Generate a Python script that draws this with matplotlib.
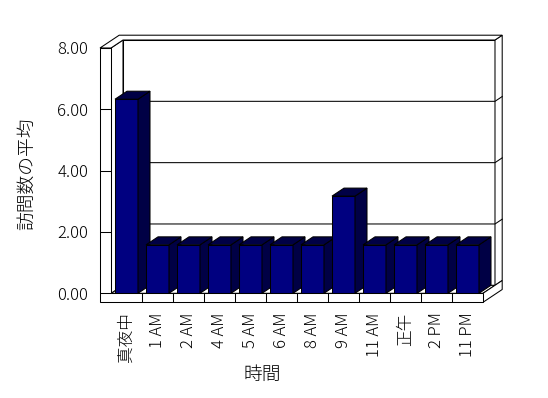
import numpy as np
import matplotlib
matplotlib.use("Agg")
import matplotlib.pyplot as plt
from matplotlib.patches import Polygon

# data
categories = ["真夜中", "1 AM", "2 AM", "4 AM", "5 AM", "6 AM", "8 AM",
              "9 AM", "11 AM", "正午", "2 PM", "11 PM"]
avg_visits = [6.33, 1.58, 1.58, 1.58, 1.58, 1.58, 1.58,
              3.17, 1.58, 1.58, 1.58, 1.58]
y_ticks = [0, 2, 4, 6, 8]
x_title = "時間"
y_title = "訪問数の平均"

plt.rcParams['font.family'] = ['Noto Sans CJK JP', 'DejaVu Sans']

NAVY = "#000080"
SHADE = "#000045"
LW = 0.75

W, H = 548, 398
# front plane of the plot box, in pixels (from top-left)
LEFT, RIGHT, ZERO, TOP = 111, 483, 293.3, 48

fig = plt.figure(figsize=(W / 100, H / 100), dpi=100)
ax = fig.add_axes([LEFT / W, 1 - ZERO / H, (RIGHT - LEFT) / W, (ZERO - TOP) / H])
n = len(categories)
ymax = max(y_ticks)
ax.set_xlim(0, n)
ax.set_ylim(0, ymax)
for s in ax.spines.values():
    s.set_visible(False)
ax.patch.set_visible(False)

# pixel sizes in data units, for the fake 3D look
px_x = n / (RIGHT - LEFT)
px_y = ymax / (ZERO - TOP)
DX, DY = 12 * px_x, 8 * px_y     # one depth unit
BACK = 1.6                       # outer face of the back wall
WALL = 11 * px_x                 # left wall thickness
FLOOR = 9 * px_y                 # floor thickness
BW = 23 * px_x                   # bar width


def poly(pts, fc, z):
    ax.add_patch(Polygon(pts, closed=True, facecolor=fc, edgecolor="black",
                         lw=LW, zorder=z, clip_on=False, joinstyle="miter"))


# walls and floor
poly([(DX, DY), (n + DX, DY), (n + DX, ymax + DY), (DX, ymax + DY)], "white", 0.6)
poly([(0, 0), (n, 0), (n + DX, DY), (DX, DY)], "white", 0.6)
poly([(0, ymax), (DX, ymax + DY), (DX, DY), (0, 0)], "white", 0.6)
poly([(n + DX, DY), (n + DX, ymax + DY), (n + BACK * DX, ymax + BACK * DY),
      (n + BACK * DX, BACK * DY)], "white", 0.6)
poly([(n, 0), (n, -FLOOR), (n + BACK * DX, -FLOOR + BACK * DY),
      (n + BACK * DX, BACK * DY)], "white", 0.6)
poly([(-WALL, ymax), (0, ymax), (DX, ymax + DY), (n + DX, ymax + DY),
      (n + BACK * DX, ymax + BACK * DY), (-WALL + BACK * DX, ymax + BACK * DY)],
     "white", 0.6)
poly([(-WALL, ymax), (0, ymax), (0, 0), (n, 0), (n, -FLOOR), (-WALL, -FLOOR)],
     "white", 0.7)

# gridlines on the back wall
for v in y_ticks[1:-1]:
    ax.plot([DX, n + DX, n + BACK * DX], [v + DY, v + DY, v + BACK * DY],
            color="black", lw=LW, zorder=0.8, clip_on=False)

# bars, left to right so the next bar hides the previous side face
x = np.arange(n) + 0.5
for i, v in enumerate(avg_visits):
    z = 10 + i
    ax.bar(x[i], v, width=BW, color=NAVY, edgecolor="black", lw=LW, zorder=z)
    x0, x1 = x[i] - BW / 2, x[i] + BW / 2
    poly([(x1, 0), (x1, v), (x1 + DX, v + DY), (x1 + DX, DY)], SHADE, z)
    poly([(x0, v), (x1, v), (x1 + DX, v + DY), (x0 + DX, v + DY)], SHADE, z)

# ticks
ax.set_yticks(y_ticks, [f"{v:.2f}" for v in y_ticks])
ax.tick_params(axis="y", length=7.9, width=LW, direction="out", pad=8.6,
               labelsize=12)
ax.set_xticks(x, categories, rotation=90)
ax.set_xticks(np.arange(1, n), minor=True)
ax.tick_params(axis="x", which="major", length=0, pad=13.7, labelsize=12)
ax.tick_params(axis="x", which="minor", length=6.5, width=LW, direction="out")
for t in ax.get_xticklabels() + ax.get_yticklabels():
    t.set_fontweight("light")

fig.text(27.5 / W, 1 - 173.5 / H, y_title, rotation=90, ha="center",
         va="center", fontsize=13.5, fontweight="light")
fig.text(262 / W, 1 - 375 / H, x_title, ha="center", va="center",
         fontsize=13.5, fontweight="light")

fig.savefig("out.png", dpi=100)
